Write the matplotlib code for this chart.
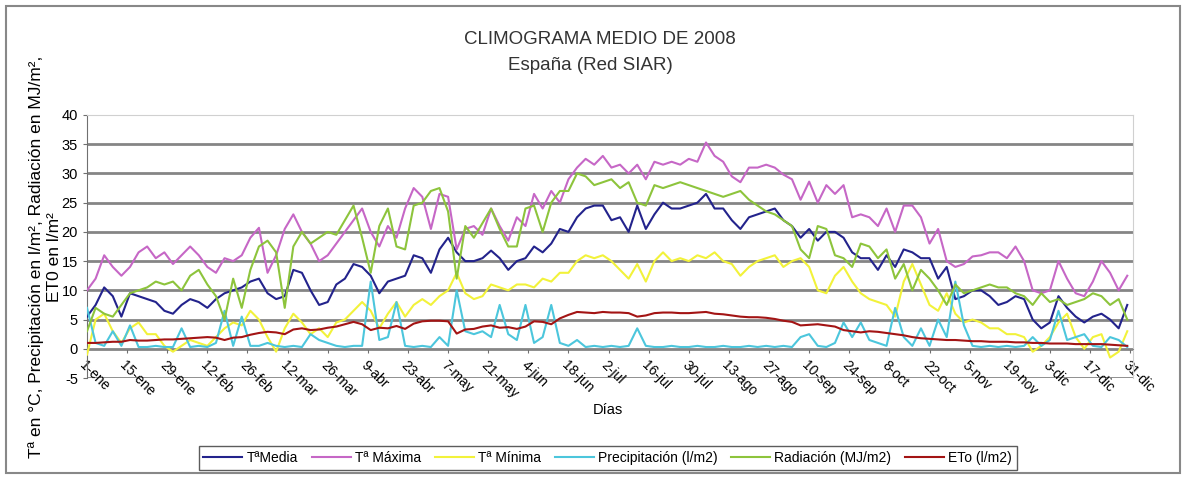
import numpy as np
import matplotlib.pyplot as plt
from matplotlib.patches import Rectangle

plt.rcParams['font.family'] = ['Liberation Sans', 'DejaVu Sans']
plt.rcParams['axes.unicode_minus'] = False

# one reading every 3 days, starting on 1-ene (day 0)
dias = np.arange(0, 366, 3)

t_media = [5.5, 7.5, 10.5, 9, 5.5, 9.5, 9, 8.5, 8, 6.5, 6, 7.5, 8.5, 8, 7, 8.5,
           9.5, 10, 10.5, 11.5, 12, 9.5, 8.5, 9, 13.5, 13, 10, 7.5, 8, 11, 12, 14.5,
           14, 12.5, 9.5, 11.5, 12, 12.5, 16, 15.5, 13, 17, 19, 16.5, 15, 15, 15.5,
           16.8, 15.5, 13.5, 15, 15.5, 17.5, 16.5, 18, 20.5, 20, 22.5, 24, 24.5, 24.5, 22,
           22.5, 20, 24.5, 20.5, 23, 25, 24, 24, 24.5, 25, 26.5, 24, 24, 22, 20.5,
           22.5, 23, 23.5, 24, 22, 21, 19, 20.5, 18.5, 20, 20, 19, 16.5, 15.5, 15.5,
           13.5, 16, 14, 17, 16.5, 15.5, 15.5, 12, 14, 8.5, 9, 10, 10, 9, 7.5,
           8, 9, 8.5, 5, 3.5, 4.5, 9, 7, 5.5, 4.5, 5.5, 6, 5, 3.5, 7.5]

t_maxima = [10, 12, 16, 14, 12.5, 14, 16.5, 17.5, 15.5, 16.5, 14.5, 16, 17.5, 16, 14, 13,
            15.5, 15, 16, 19, 20.7, 13, 16, 20.5, 23, 20, 18, 15, 16, 18, 20, 22,
            24, 20, 17.5, 21, 19, 24, 27.5, 26, 20.5, 26.5, 26, 17, 20.5, 21, 19.5,
            24, 21, 18.5, 22.5, 21, 26.5, 24, 27, 25, 29, 31, 32.5, 31.5, 33, 31,
            31.5, 30, 31.5, 29, 32, 31.5, 32, 31.5, 32.5, 32, 35.3, 33, 32, 29.5, 28.5,
            31, 31, 31.5, 31, 29.8, 29, 25.5, 28.6, 25, 28, 26.5, 28, 22.5, 23, 22.5,
            21, 24, 20, 24.5, 24.5, 22.5, 18, 20.5, 15, 14, 14.5, 15.8, 16, 16.5, 16.5,
            15.5, 17.5, 15, 10, 9.5, 10, 15, 12, 9.5, 9, 11.5, 15, 13, 10, 12.5]

t_minima = [-1, 5, 6, 3, 1, 3.5, 4.5, 2.5, 2.5, 0.5, -0.5, 0.5, 1.5, 1, 0.5, 2,
            3.5, 4.5, 4, 6.5, 5, 2, -0.5, 3.5, 6, 4.5, 2.5, 3.5, 2, 4.5, 5, 6.5,
            8, 6.5, 3.5, 6, 8, 5.5, 7.5, 8.5, 7.5, 9, 10, 13, 9.5, 8.5, 9,
            11, 10.5, 10, 11, 11, 10.5, 12, 11.5, 13, 13, 15, 16, 15.5, 16, 15,
            13.5, 12, 14.5, 11.5, 15, 16.5, 15, 15.5, 15, 16, 15.5, 16.5, 15, 14.5, 12.5,
            14, 15, 15.5, 16, 14, 15, 15.5, 14, 10, 9.5, 12.5, 14, 11.5, 9.5, 8.5,
            8, 7.5, 5.5, 11.5, 14.5, 11, 7.5, 6.5, 9.5, 6, 4.5, 5, 4.5, 3.5, 3.5,
            2.5, 2.5, 2, -0.5, 0.5, 2, 4.5, 6, 2, 0, 2, 2.5, -1.5, -0.5, 3]

precipitacion = [7, 1, 0.5, 3, 0.5, 4, 0.3, 0.3, 0.5, 0.3, 0.3, 3.5, 0.3, 0.5, 0.3, 1,
                 6.5, 0.5, 5.5, 0.5, 0.5, 1, 0.5, 0.3, 0.5, 0.3, 2.5, 1.5, 1, 0.5, 0.3, 0.5,
                 0.5, 11.5, 1.5, 2, 8, 0.5, 0.3, 0.5, 0.3, 2, 0.5, 10, 3, 2.5, 3,
                 2, 7.5, 2.5, 1.5, 7.5, 1, 2, 7.5, 1, 0.5, 1.5, 0.3, 0.5, 0.3, 0.5,
                 0.3, 0.5, 3.5, 0.5, 0.3, 0.3, 0.5, 0.3, 0.3, 0.5, 0.3, 0.3, 0.5, 0.3, 0.3,
                 0.5, 0.3, 0.5, 0.3, 0.5, 0.3, 2, 2.5, 0.5, 0.3, 1, 4.5, 2, 4.5, 1.5,
                 1, 0.5, 7, 2, 0.5, 3.5, 0.5, 5, 2, 11.5, 4, 0.5, 0.3, 0.5, 0.3,
                 0.5, 0.3, 0.5, 2, 0.5, 1.5, 6.5, 1.5, 2, 2.5, 0.5, 0.3, 2, 1.5, 0.3]

radiacion = [3, 7, 6, 5.5, 7.5, 9.5, 10, 10.5, 11.5, 11, 11.5, 10, 12.5, 13.5, 11, 9,
             5, 12, 7, 13.5, 17.5, 18.5, 16.5, 7, 17.5, 20, 18, 19, 20, 19.5, 22, 24.5,
             19, 13, 21, 24, 17.5, 17, 24.5, 25, 27, 27.5, 23.5, 12, 21, 19, 21.5,
             24, 20.5, 17.5, 17.5, 24, 24.5, 20, 25, 27, 27, 30, 29.5, 28, 28.5, 29,
             27.5, 28.5, 25, 24.5, 28, 27.5, 28, 28.5, 28, 27.5, 27, 26.5, 26, 26.5, 27,
             25.5, 24.5, 23.5, 23, 22, 21, 17, 15.5, 21, 20.5, 16, 15.5, 14, 18, 17.5,
             15.5, 17, 12, 14.5, 10, 13.5, 12, 10, 7.5, 11, 9.5, 10, 10.5, 11, 10.5,
             10.5, 9.5, 9, 7.5, 9.5, 8, 8.5, 7.5, 8, 8.5, 9.5, 9, 7.5, 8.5, 5]

eto = [1, 1, 1.1, 1.2, 1.2, 1.5, 1.4, 1.4, 1.5, 1.6, 1.6, 1.7, 1.8, 1.9, 2, 1.9,
       1.5, 1.9, 2, 2.4, 2.7, 2.9, 2.8, 2.5, 3.3, 3.5, 3.2, 3.3, 3.6, 3.8, 4.2, 4.6,
       4.2, 3.2, 3.6, 3.5, 3.9, 3.4, 4.3, 4.7, 4.8, 4.8, 4.7, 2.6, 3.3, 3.4, 3.8,
       4, 3.6, 3.7, 3.4, 3.8, 4.7, 4.6, 4.2, 5.2, 5.8, 6.3, 6.2, 6.1, 6.3, 6.2,
       6.2, 6.1, 5.5, 5.7, 6.1, 6.2, 6.2, 6.1, 6.1, 6.2, 6.3, 6, 5.9, 5.7, 5.5,
       5.4, 5.4, 5.3, 5.1, 4.8, 4.6, 4, 4.1, 4.2, 4, 3.8, 3.2, 3, 2.8, 3,
       2.9, 2.7, 2.5, 2.3, 2, 1.8, 1.7, 1.6, 1.5, 1.5, 1.4, 1.3, 1.3, 1.2, 1.2,
       1.2, 1.1, 1.1, 1, 1, 0.9, 0.9, 0.9, 0.8, 0.8, 0.8, 0.8, 0.7, 0.6, 0.5]

etiquetas = ['1-ene', '15-ene', '29-ene', '12-feb', '26-feb', '12-mar', '26-mar', '9-abr',
             '23-abr', '7-may', '21-may', '4-jun', '18-jun', '2-jul', '16-jul', '30-jul',
             '13-ago', '27-ago', '10-sep', '24-sep', '8-oct', '22-oct', '5-nov', '19-nov',
             '3-dic', '17-dic', '31-dic']

series = [(t_media, 'TªMedia', '#23238c'),
          (t_maxima, 'Tª Máxima', '#c667c6'),
          (t_minima, 'Tª Mínima', '#f2f23a'),
          (precipitacion, 'Precipitación (l/m2)', '#4cc6dc'),
          (radiacion, 'Radiación (MJ/m2)', '#8dc43c'),
          (eto, 'ETo (l/m2)', '#a31414')]

fig = plt.figure(figsize=(11.87, 4.78), dpi=100)
ax = fig.add_axes([87/1187, 1 - 378/478, (1133 - 87)/1187, (378 - 115)/478])

for vals, nombre, col in series:
    ax.plot(dias, vals, color=col, lw=1.5, label=nombre, zorder=3)

ax.set_xlim(0, 365)
ax.set_ylim(-5, 40)
ax.set_yticks(np.arange(-5, 41, 5))
for v in np.arange(-5, 40, 5):
    ax.axhline(v, color='#858585', lw=2, zorder=1)

ax.spines['top'].set_color('#d0d0d0')
ax.spines['right'].set_color('#d0d0d0')
ax.spines['left'].set_color('#707070')
ax.spines['bottom'].set_position(('data', 0))
ax.spines['bottom'].set_color('#858585')

ax.set_xticks(np.arange(0, 365, 14))
ax.set_xticklabels(etiquetas, rotation=-45, ha='left', va='top',
                   rotation_mode='anchor', fontsize=10)
ax.tick_params(axis='x', length=3, color='#707070', pad=4)
ax.tick_params(axis='y', length=3, color='#707070', labelsize=10.5)

fig.text(0.512, 1 - 410/478, 'Días', ha='center', va='center', fontsize=10.5)
fig.text(0.505, 1 - 40/478, 'CLIMOGRAMA MEDIO DE 2008', ha='center', va='center',
         fontsize=13.5, color='#333333')
fig.text(0.497, 1 - 66/478, 'España (Red SIAR)', ha='center', va='center',
         fontsize=13.5, color='#333333')
fig.text(45/1187, 1 - 257/478,
         'Tª en °C, Precipitación en l/m², Radiación en MJ/m²,\nET0 en l/m²',
         rotation=90, ha='center', va='center', multialignment='center', fontsize=12.5)

leg = fig.legend(loc='center', bbox_to_anchor=(0.512, 1 - 458/478), ncol=6,
                 fontsize=10, handlelength=2.8, columnspacing=1.0, handletextpad=0.3,
                 frameon=True, fancybox=False, borderpad=0.35)
leg.get_frame().set_edgecolor('#333333')
leg.get_frame().set_linewidth(1)

fig.patches.append(Rectangle((6/1187, 5/478), 1174/1187, 467/478, transform=fig.transFigure,
                             fill=False, edgecolor='#888888', lw=1.5))

fig.savefig('out.png', dpi=100)
